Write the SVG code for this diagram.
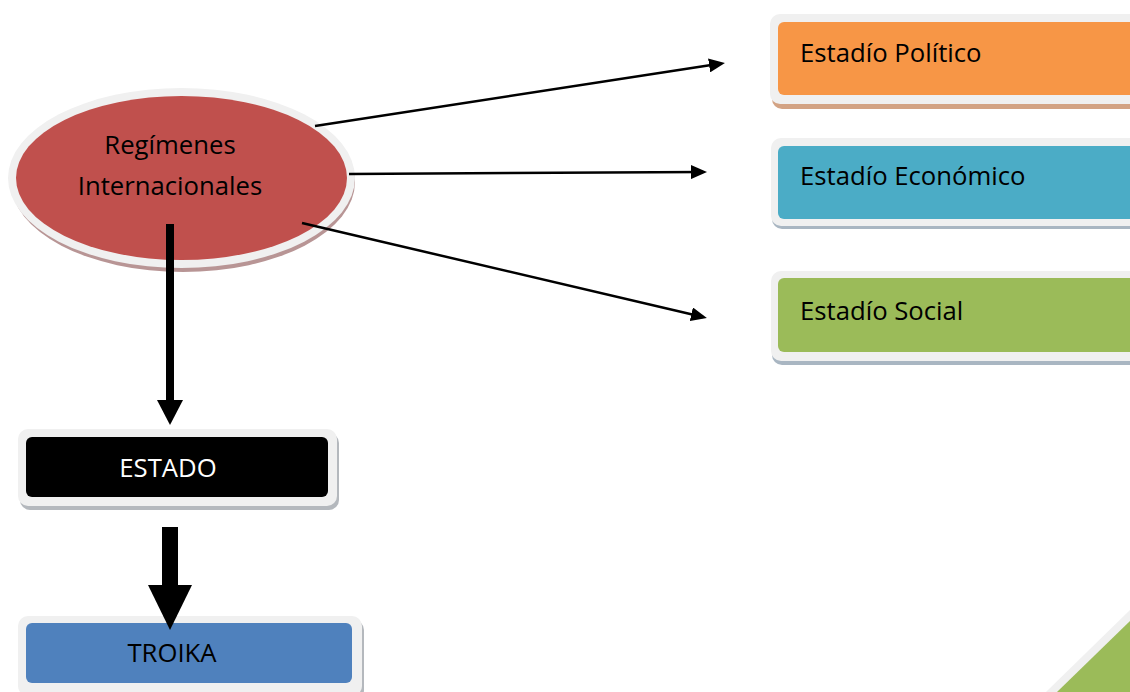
<svg xmlns="http://www.w3.org/2000/svg" width="1130" height="692" viewBox="0 0 1130 692">
<style>
.lbl{font-family:"Open Sans","Liberation Sans",sans-serif;font-size:25.7px;fill:#000}
.rim{fill:#f0f0f0}
.conn{stroke:#000;fill:none}
</style>
<defs>
<marker id="ah" markerUnits="userSpaceOnUse" viewBox="0 0 16 14" refX="12" refY="7" markerWidth="16" markerHeight="14" orient="auto"><path d="M0,0 L16,7 L0,14 z" fill="#000"/></marker>
<marker id="ahm" markerUnits="userSpaceOnUse" viewBox="0 0 25 26" refX="10" refY="13" markerWidth="25" markerHeight="26" orient="auto"><path d="M0,0 L25,13 L0,26 z" fill="#000"/></marker>
<marker id="ahb" markerUnits="userSpaceOnUse" viewBox="0 0 45 44" refX="15" refY="22" markerWidth="45" markerHeight="44" orient="auto"><path d="M0,0 L45,22 L0,44 z" fill="#000"/></marker>
</defs>
<rect width="1130" height="692" fill="#fff"/>

<g id="regimenes">
<ellipse cx="183" cy="182" rx="172" ry="90" fill="#b89595"/>
<ellipse class="rim" cx="181.5" cy="178" rx="173.5" ry="90"/>
<ellipse cx="181.5" cy="178" rx="165.5" ry="82" fill="#c0504d"/>
<text class="lbl" x="170" y="154" text-anchor="middle">Regímenes</text>
<text class="lbl" x="170" y="195" text-anchor="middle">Internacionales</text>
</g>

<g id="politico">
<rect x="772" y="18" width="370" height="91" rx="10" fill="#d3a384"/>
<rect class="rim" x="770" y="14" width="370" height="90" rx="10"/>
<rect x="778" y="22" width="360" height="73" rx="6" fill="#f79646"/>
<text class="lbl" x="800" y="62">Estadío Político</text>
</g>

<g id="economico">
<rect x="772" y="142" width="370" height="87" rx="10" fill="#a9b6c2"/>
<rect class="rim" x="771" y="138" width="370" height="88" rx="10"/>
<rect x="778" y="146" width="360" height="73" rx="6" fill="#4bacc6"/>
<text class="lbl" x="800" y="185">Estadío Económico</text>
</g>

<g id="social">
<rect x="772" y="275" width="370" height="90" rx="10" fill="#a9b6c2"/>
<rect class="rim" x="771" y="271" width="370" height="90" rx="10"/>
<rect x="778" y="278" width="360" height="74" rx="6" fill="#9bbb59"/>
<text class="lbl" x="800" y="320">Estadío Social</text>
</g>

<g id="estado">
<rect x="20" y="433" width="319" height="77" rx="10" fill="#b4b8bd"/>
<rect class="rim" x="18" y="429" width="319" height="77" rx="10"/>
<rect x="26" y="437" width="302" height="60" rx="6" fill="#000"/>
<text class="lbl" x="168" y="477" text-anchor="middle" style="fill:#fff">ESTADO</text>
</g>

<g id="troika">
<rect x="20" y="620" width="344" height="80" rx="10" fill="#b4b8bd"/>
<rect class="rim" x="18" y="616" width="344" height="80" rx="10"/>
<rect x="26" y="623" width="326" height="60" rx="6" fill="#4f81bd"/>
<text class="lbl" x="172" y="662" text-anchor="middle">TROIKA</text>
</g>

<g id="corner">
<polygon class="rim" points="1046,692 1130,610 1130,692"/>
<polygon points="1057,692 1130,621 1130,692" fill="#9bbb59"/>
</g>

<g id="connectors">
<line class="conn" x1="315" y1="126" x2="721" y2="63.6" stroke-width="2.5" marker-end="url(#ah)"/>
<line class="conn" x1="349" y1="174" x2="703" y2="172" stroke-width="2.5" marker-end="url(#ah)"/>
<line class="conn" x1="302" y1="223" x2="703" y2="317" stroke-width="2.5" marker-end="url(#ah)"/>
<line class="conn" x1="170" y1="224" x2="170" y2="410" stroke-width="8" marker-end="url(#ahm)"/>
<line class="conn" x1="170" y1="527" x2="170" y2="600" stroke-width="16" marker-end="url(#ahb)"/>
</g>
</svg>
